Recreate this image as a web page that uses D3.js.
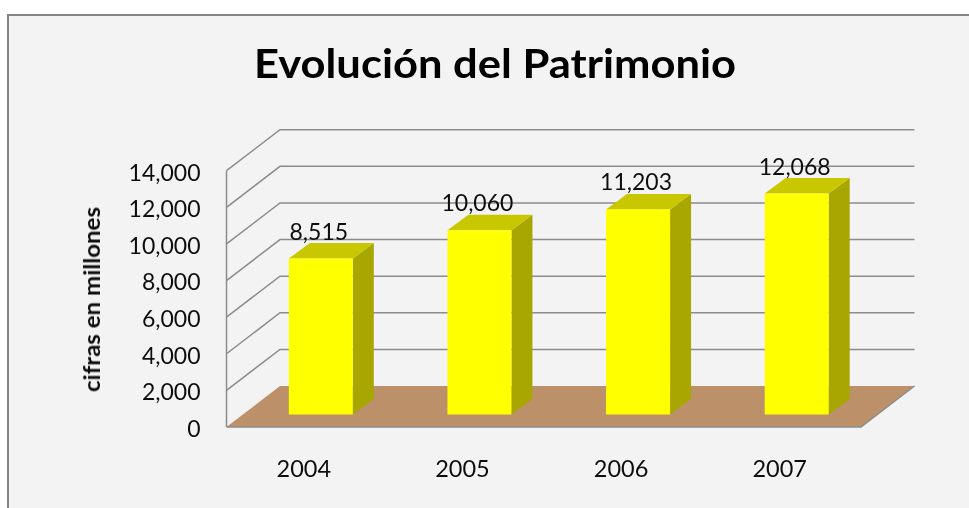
<!DOCTYPE html>
<html><head><meta charset="utf-8">
<script src="https://cdn.jsdelivr.net/npm/d3@7/dist/d3.min.js"></script>
<style>html,body{margin:0;padding:0;background:#fff;overflow:hidden}svg{display:block}</style>
</head><body><svg id="c" width="969" height="508"></svg>
<script>
const chartTitle = "Evolución del Patrimonio";
const yAxisTitle = "cifras en millones";
const categories = ["2004","2005","2006","2007"];
const values = [8515,10060,11203,12068];
const valueLabels = ["8,515","10,060","11,203","12,068"];
const yTicks = [0,2000,4000,6000,8000,10000,12000,14000];

const svg = d3.select("#c");
const font = "Lato, 'Open Sans', sans-serif";
const depth = {x:53.5, y:41};
const barDepth = {x:21, y:15.5};
const barOff = {x:15, y:12.5};
const y = d3.scaleLinear().domain([0,14000]).range([427,170.7]);
const x = d3.scaleBand().domain(categories).range([226.5,861]);
const barW = 64;

const defs = svg.append("defs");
defs.append("filter").attr("id","soft").attr("x","-5%").attr("y","-5%").attr("width","110%").attr("height","110%")
  .append("feGaussianBlur").attr("stdDeviation",0.45);

svg.append("rect").attr("x",8).attr("y",15).attr("width",980).attr("height",510)
  .attr("fill","#f3f3f3").attr("stroke","#858585").attr("stroke-width",2);

svg.append("text").attr("x",495).attr("y",78).attr("text-anchor","middle").attr("filter","url(#soft)")
  .attr("font-family",font).attr("font-weight",700).attr("font-size",40).attr("fill","#000")
  .attr("textLength",482).attr("lengthAdjust","spacingAndGlyphs").text(chartTitle);

const grid = svg.append("g").attr("fill","none").attr("stroke","#8c8c8c").attr("stroke-width",1.5);
const frontL = x.range()[0], frontR = x.range()[1];
yTicks.slice(1).forEach(t=>{
  const py=y(t);
  grid.append("path").attr("d",d3.line()([[frontL,py],[frontL+depth.x,py-depth.y],[frontR+depth.x,py-depth.y]]));
});

const y0=y(0);
svg.append("polygon").attr("fill","#bc9069")
  .attr("points",[[frontL,y0],[frontL+depth.x,y0-depth.y],[frontR+depth.x,y0-depth.y],[frontR,y0]].join(" "));
svg.append("path").attr("fill","none").attr("stroke","#8c8c8c").attr("stroke-width",1.5)
  .attr("d",d3.line()([[frontL,y0],[frontR,y0],[frontR+depth.x,y0-depth.y]]));
svg.append("line").attr("x1",frontL).attr("x2",frontL).attr("y1",y(14000)).attr("y2",y0)
  .attr("stroke","#8c8c8c").attr("stroke-width",1.5);

const axis = d3.axisLeft(y).tickValues(yTicks).tickSize(0).tickPadding(26).tickFormat(d3.format(","));
const ag = svg.append("g").attr("transform",`translate(${frontL},2)`).attr("filter","url(#soft)").call(axis);
ag.select(".domain").remove();
ag.selectAll("text").attr("font-family",font).attr("font-size",23).attr("fill","#111");

svg.append("text").attr("transform","translate(100,299.5) rotate(-90)").attr("text-anchor","middle").attr("filter","url(#soft)")
  .attr("font-family",font).attr("font-size",22).attr("font-weight",700).attr("fill","#111")
  .attr("textLength",185).attr("lengthAdjust","spacingAndGlyphs").text(yAxisTitle);

const bars = svg.append("g").selectAll("g").data(categories).join("g");
const bx = c => x(c)+x.bandwidth()/2-barW/2+barOff.x;
const barTop = (d,i)=>y(values[i])-barOff.y;
const base = y0-barOff.y;
bars.append("polygon").attr("fill","#a8a600").attr("points",(c,i)=>{
  const r=bx(c)+barW,t=barTop(c,i);
  return [[r,t],[r+barDepth.x,t-barDepth.y],[r+barDepth.x,base-barDepth.y],[r,base]].join(" ");
});
bars.append("polygon").attr("fill","#c9c700").attr("points",(c,i)=>{
  const l=bx(c),t=barTop(c,i);
  return [[l,t],[l+barDepth.x,t-barDepth.y],[l+barW+barDepth.x,t-barDepth.y],[l+barW,t]].join(" ");
});
bars.append("rect").attr("fill","#ffff00").attr("x",bx).attr("y",barTop).attr("width",barW)
  .attr("height",(c,i)=>base-barTop(c,i));
bars.append("text").attr("x",c=>bx(c)+barW/2-2).attr("y",(c,i)=>barTop(c,i)-19).attr("filter","url(#soft)")
  .attr("text-anchor","middle").attr("font-family",font).attr("font-size",23).attr("fill","#111")
  .text((c,i)=>valueLabels[i]);

const xa = d3.axisBottom(x).tickSize(0).tickPadding(0);
const xg = svg.append("g").attr("transform",`translate(0,${y0+42})`).attr("filter","url(#soft)").call(xa);
xg.select(".domain").remove();
xg.selectAll("text").attr("font-family",font).attr("font-size",23.5).attr("fill","#111")
  .attr("dx",-2).attr("dy",".35em");
</script></body></html>
